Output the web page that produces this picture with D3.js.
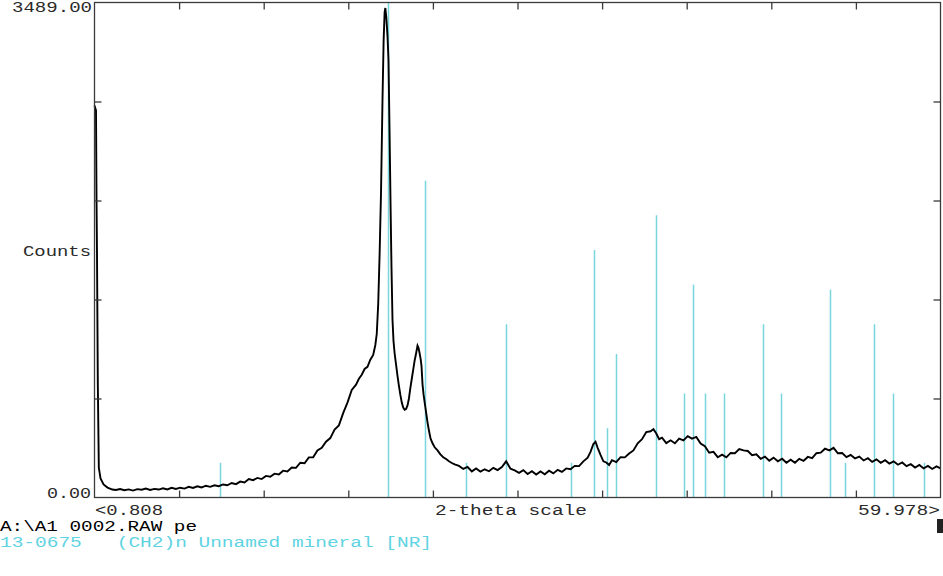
<!DOCTYPE html>
<html>
<head>
<meta charset="utf-8">
<script src="https://cdn.jsdelivr.net/npm/d3@7"></script>
<style>
  html, body { margin: 0; padding: 0; background: #fff; }
  svg { display: block; }
  text { font-family: "Liberation Mono", "DejaVu Sans Mono", monospace; white-space: pre; }
</style>
</head>
<body>
<svg id="chart" width="943" height="576"></svg>
<script>
// ---- data ----
const xDomain = [0.808, 59.978];
const yDomain = [0, 3489];

const scanAngles = [
  0.808, 0.913, 0.95, 0.983, 1.04, 1.11, 1.23, 1.44, 1.72, 2.06,
  2.3, 2.6, 2.9, 3.2, 3.5, 3.8, 4.1, 4.4, 4.7, 5.0, 5.3, 5.6, 5.9, 6.2, 6.5, 6.8,
  7.1, 7.4, 7.7, 8.0, 8.3, 8.6, 8.9, 9.2, 9.5, 9.8, 10.1, 10.4, 10.7, 11.0, 11.3,
  11.6, 11.9, 12.2, 12.5, 12.8, 13.1, 13.4, 13.7, 14.0, 14.3, 14.6, 14.9, 15.2,
  15.5, 15.8, 16.1, 16.4, 16.7, 17.0, 17.3, 17.6, 17.9, 18.2, 18.5, 18.8, 19.1,
  19.3, 19.5, 19.7, 19.9, 20.1, 20.3, 20.45, 20.55, 20.65, 20.75, 20.85, 20.95,
  21.03, 21.1, 21.15, 21.22, 21.3, 21.37, 21.44, 21.51, 21.58, 21.65, 21.72, 21.8,
  21.9, 22.0, 22.1, 22.2, 22.3, 22.4, 22.5, 22.6, 22.7, 22.8, 22.9, 23.0, 23.1,
  23.2, 23.3, 23.4, 23.47, 23.54, 23.62, 23.68, 23.75, 23.82, 23.89, 23.96, 24.03,
  24.1, 24.17, 24.24, 24.31, 24.45, 24.6, 24.8, 25.0, 25.2, 25.4, 25.6, 25.8, 26.0,
  26.3, 26.6, 26.9, 27.2, 27.5, 27.8, 28.1, 28.4, 28.7, 29.0, 29.3, 29.6, 29.9,
  30.2, 30.5, 30.8, 31.1, 31.4, 31.7, 32.0, 32.3, 32.6, 32.9, 33.2, 33.5, 33.8,
  34.1, 34.4, 34.7, 35.0, 35.3, 35.5, 35.7, 35.85, 36.0, 36.2, 36.4, 36.6, 36.8,
  37.0, 37.3, 37.6, 37.9, 38.2, 38.5, 38.8, 39.1, 39.4, 39.7, 39.9, 40.1, 40.3,
  40.5, 40.8, 41.1, 41.4, 41.7, 42.0, 42.3, 42.6, 42.9, 43.2, 43.5, 43.8, 44.1,
  44.4, 44.7, 45.0, 45.3, 45.6, 45.9, 46.2, 46.5, 46.8, 47.1, 47.4, 47.7, 48.0,
  48.3, 48.6, 48.9, 49.2, 49.5, 49.8, 50.1, 50.4, 50.7, 51.0, 51.3, 51.6, 51.9,
  52.2, 52.5, 52.8, 53.1, 53.4, 53.7, 54.0, 54.3, 54.6, 54.9, 55.2, 55.5, 55.8,
  56.1, 56.4, 56.7, 57.0, 57.3, 57.6, 57.9, 58.2, 58.5, 58.8, 59.1, 59.4, 59.7, 59.978
];
const scanCounts = [
  2763, 2728, 2093, 1720, 803, 211, 134, 92, 70, 56,
  53, 60, 51, 57, 49, 59, 55, 63, 53, 61, 56, 65, 57, 68, 60, 69,
  63, 75, 67, 79, 71, 83, 75, 86, 80, 92, 86, 102, 94, 112, 106,
  130, 122, 138, 130, 152, 146, 168, 162, 189, 184, 211, 209, 245,
  241, 283, 284, 332, 350, 393, 419, 479, 508, 595, 669, 758, 795,
  837, 865, 906, 921, 971, 1005, 1075, 1154, 1362, 1718, 2164, 2797,
  3223, 3421, 3450, 3381, 3253, 3084, 2609, 2094, 1619, 1253, 1104, 1015,
  936, 857, 787, 723, 669, 634, 619, 624, 649, 698, 773, 837, 901,
  966, 1015, 1070, 1055, 1020, 975, 926, 797, 728, 678, 629, 578,
  530, 488, 451, 416, 382, 354, 332, 304, 284, 271, 255, 243, 233,
  223, 201, 215, 184, 205, 182, 199, 185, 209, 193, 215, 255, 203,
  191, 174, 193, 166, 185, 162, 184, 164, 189, 170, 195, 180, 205,
  199, 223, 221, 255, 281, 322, 377, 393, 350, 300, 255, 247, 229,
  263, 249, 284, 283, 310, 332, 382, 411, 461, 467, 482, 451, 411,
  421, 383, 403, 382, 415, 403, 433, 415, 427, 380, 362, 316, 322,
  284, 302, 283, 314, 312, 342, 332, 328, 298, 304, 273, 288, 259,
  281, 255, 273, 245, 267, 245, 273, 259, 286, 277, 312, 316, 344,
  332, 350, 312, 314, 284, 300, 275, 288, 261, 277, 251, 269, 245,
  263, 239, 255, 231, 247, 221, 235, 211, 229, 205, 223, 201, 219, 205
];

// reference pattern 13-0675 (CH2)n : 2-theta and relative intensity (%)
const refAngles = [9.62, 21.37, 23.89, 26.76, 29.62, 34.10, 35.71, 36.62, 37.25, 40.11,
  42.07, 42.70, 43.54, 44.87, 47.53, 48.79, 52.28, 53.33, 55.36, 56.69, 58.79];
const refIntensity = [7, 100, 64, 7, 35, 7, 50, 14, 29, 57,
  21, 43, 21, 21, 35, 21, 42, 7, 35, 21, 7];

const yTopLabel = "3489.00";
const yBottomLabel = "0.00";
const yTitle = "Counts";
const xLeftLabel = "<0.808";
const xRightLabel = "59.978>";
const xTitle = "2-theta scale";
const fileLabel = "A:\\A1 0002.RAW pe";
const refLabel = "13-0675   (CH2)n Unnamed mineral [NR]";

// ---- drawing ----
const svg = d3.select("#chart");
const L = 94.5, R = 940.5, T = 2.5, B = 497.5;

const x = d3.scaleLinear().domain(xDomain).range([L, R]);
const y = d3.scaleLinear().domain(yDomain).range([B, T]);

const stickColor = "#78d6dc";
const frameColor = "#3a3a3a";

// reference sticks
svg.append("g").selectAll("line").data(refAngles).join("line")
  .attr("x1", d => Math.round(x(d)) + 0.5)
  .attr("x2", d => Math.round(x(d)) + 0.5)
  .attr("y1", B)
  .attr("y2", (d, i) => y(refIntensity[i] / 100 * yDomain[1]))
  .attr("stroke", stickColor)
  .attr("stroke-width", 1.5);

// scan curve
const line = d3.line()
  .x((d, i) => x(scanAngles[i]))
  .y(d => y(d));
svg.append("path")
  .datum(scanCounts)
  .attr("d", line)
  .attr("fill", "none")
  .attr("stroke", "#000")
  .attr("stroke-width", 1.9)
  .attr("stroke-linejoin", "miter");

// frame
svg.append("rect")
  .attr("x", L).attr("y", T)
  .attr("width", R - L).attr("height", B - T)
  .attr("fill", "none")
  .attr("stroke", frameColor)
  .attr("stroke-width", 1.3);

// ticks: divisions of the domain (10 along x, 5 along y)
const xTicks = d3.range(1, 10).map(k => xDomain[0] + k * (xDomain[1] - xDomain[0]) / 10);
const yTicks = d3.range(1, 5).map(k => yDomain[0] + k * (yDomain[1] - yDomain[0]) / 5);

const topAxis = d3.axisTop(x).tickValues(xTicks).tickSize(-7).tickFormat("");
const botAxis = d3.axisBottom(x).tickValues(xTicks).tickSize(-7).tickFormat("");
const leftAxis = d3.axisLeft(y).tickValues(yTicks).tickSize(-7).tickFormat("");
const rightAxis = d3.axisRight(y).tickValues(yTicks).tickSize(-7).tickFormat("");

function styleAxis(g) {
  g.select(".domain").remove();
  g.selectAll(".tick line").attr("stroke", frameColor).attr("stroke-width", 1.3);
}
svg.append("g").attr("transform", `translate(0,${T})`).call(topAxis).call(styleAxis);
svg.append("g").attr("transform", `translate(0,${B})`).call(botAxis).call(styleAxis);
svg.append("g").attr("transform", `translate(${L},0)`).call(leftAxis).call(styleAxis);
svg.append("g").attr("transform", `translate(${R},0)`).call(rightAxis).call(styleAxis);

// texts
function label(txt, xx, yy, len, color) {
  svg.append("text")
    .attr("x", xx).attr("y", yy)
    .attr("font-size", 14)
    .attr("fill", color || "#2a2a2a")
    .attr("textLength", len)
    .attr("lengthAdjust", "spacingAndGlyphs")
    .text(txt);
}
label(yTopLabel, 12, 12, 80);
label(yBottomLabel, 47, 498, 44);
label(yTitle, 23, 256, 68);
label(xLeftLabel, 95, 515, 68);
label(xTitle, 435, 515, 152);
label(xRightLabel, 858, 515, 82);
label(fileLabel, 0, 531, 197, "#000");
label(refLabel, 0, 547, 432, "#5fd3e2");

// cursor block
svg.append("rect").attr("x", 937).attr("y", 519).attr("width", 6).attr("height", 14).attr("fill", "#222");
</script>
</body>
</html>
